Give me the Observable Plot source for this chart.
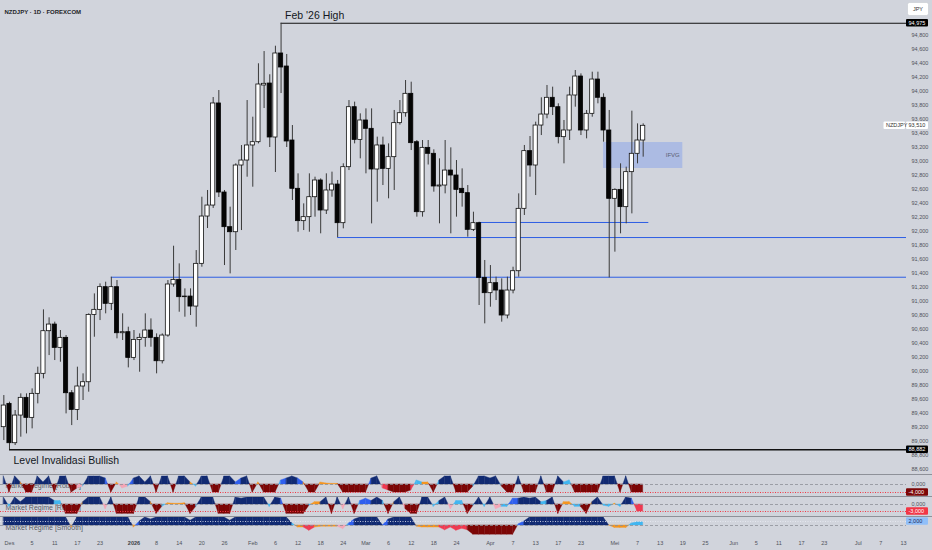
<!DOCTYPE html>
<html>
<head>
<meta charset="utf-8">
<script src="https://cdn.jsdelivr.net/npm/d3@7"></script>
<script src="https://cdn.jsdelivr.net/npm/@observablehq/plot@0.6"></script>
<style>
  body { margin: 0; background: #d1d4dc; width: 932px; height: 550px; overflow: hidden; font-family: "Liberation Sans", Arial, sans-serif; }
  svg { display: block; }
</style>
</head>
<body>
<div id="chart"></div>
<script>
// daily bars, index 0 = 1 Des 2025 (trading days only)
const firstBar = -1;
const O = [89.205,89.538,88.976,89.371,89.624,89.338,89.681,89.967,90.576,90.671,
  90.338,90.481,89.690,89.452,89.786,89.847,90.809,90.881,91.205,90.967,
  91.205,90.547,90.562,90.195,90.452,90.481,90.586,90.481,90.147,90.514,
  91.243,91.309,91.062,91.071,90.928,91.538,92.214,92.371,93.829,92.557,
  92.062,91.990,92.943,93.014,93.229,93.276,94.086,94.114,93.343,94.543,
  94.357,93.300,92.610,92.148,92.205,92.490,92.729,92.300,92.586,92.671,
  92.119,92.919,93.776,93.309,93.586,93.467,92.886,93.229,92.895,93.062,
  93.548,93.690,93.967,93.276,92.276,93.195,93.110,92.643,92.657,92.871,
  92.800,92.610,92.548,92.024,92.119,91.338,91.119,91.262,91.157,90.800,
  91.157,91.433,92.324,93.148,92.943,93.514,93.671,93.910,93.776,93.348,
  93.443,93.943,94.214,93.443,93.681,94.171,93.910,93.443,92.467,92.595,
  92.348,92.848,93.110,93.300];
const H = [89.657,89.562,89.443,89.681,89.681,89.752,90.062,90.881,90.767,90.705,
  90.586,90.514,89.728,90.062,89.967,90.824,91.109,91.252,91.276,91.347,
  91.300,90.824,90.633,90.586,90.538,90.824,90.752,90.538,90.538,91.300,
  91.790,91.538,91.181,91.181,91.728,92.490,92.586,93.914,94.014,92.586,
  92.348,92.967,93.228,93.871,93.633,94.396,94.571,94.239,94.647,94.975,
  94.529,93.514,92.824,92.395,92.824,92.776,92.752,92.824,92.848,92.729,
  92.967,93.871,93.848,93.681,93.752,93.752,93.348,93.348,93.252,93.729,
  93.871,94.157,94.133,93.300,93.300,93.300,93.167,93.038,93.300,93.195,
  93.014,92.895,92.657,92.276,92.133,91.586,91.514,91.348,91.324,91.348,
  91.490,92.538,93.229,93.357,93.562,93.910,94.086,94.062,93.824,93.586,
  94.062,94.300,94.252,93.729,94.276,94.276,93.967,93.729,92.610,92.967,
  92.919,93.719,93.538,93.538];
const L = [89.014,88.882,88.943,89.062,89.109,89.181,89.538,89.895,90.228,90.157,
  90.133,89.395,89.228,89.300,89.586,89.705,90.490,90.728,90.824,90.871,
  90.467,90.443,90.052,90.157,89.990,90.347,90.347,89.967,90.109,90.490,
  91.205,90.847,90.776,90.800,90.633,91.490,92.043,92.330,92.486,91.514,
  91.395,91.729,92.014,92.776,92.633,93.252,93.757,93.200,92.843,93.971,
  93.200,92.443,91.990,92.014,91.990,92.205,91.967,92.243,92.490,91.914,
  92.038,92.871,93.252,93.038,92.824,92.109,92.419,92.657,92.467,92.586,
  93.520,93.633,93.157,92.205,92.205,92.950,92.562,92.110,92.538,91.967,
  92.205,92.348,91.919,92.000,90.943,90.681,90.919,91.014,90.705,90.752,
  91.110,91.348,92.229,92.776,92.514,93.371,93.610,93.657,93.252,92.967,
  93.300,93.776,93.371,93.324,93.633,93.824,93.276,91.338,91.705,91.967,
  92.110,92.252,92.967,93.062];
const C = [89.514,88.976,89.371,89.624,89.338,89.681,89.967,90.576,90.671,90.338,
  90.481,89.690,89.452,89.786,89.847,90.809,90.881,91.205,90.967,91.205,
  90.547,90.562,90.195,90.452,90.481,90.586,90.481,90.147,90.514,91.243,
  91.309,91.062,91.071,90.928,91.538,92.214,92.371,93.829,92.557,92.062,
  91.990,92.943,93.014,93.229,93.276,94.100,94.110,93.343,94.543,94.343,
  93.286,92.610,92.148,92.205,92.490,92.729,92.300,92.586,92.671,92.119,
  92.919,93.776,93.309,93.586,93.467,92.886,93.229,92.895,93.062,93.548,
  93.690,93.967,93.262,92.276,93.195,93.110,92.643,92.657,92.871,92.800,
  92.595,92.548,92.024,92.119,91.338,91.119,91.262,91.157,90.800,91.157,
  91.433,92.324,93.148,92.943,93.514,93.671,93.910,93.776,93.348,93.443,
  93.943,94.214,93.443,93.681,94.171,93.910,93.443,92.467,92.595,92.348,
  92.848,93.110,93.300,93.510];

// horizontal levels (blue), start bar, end bar (null = runs to the edge)
const levelPrice = [91.347, 91.914, 92.129];
const levelFrom = [18, 58, 83];
const levelTo = [null, null, 113];
const febHighBar = 48, febHighPrice = 94.975;
const invalBar = 0, invalPrice = 88.882;
const fvg = {from: 105, to: 119, lo: 92.900, hi: 93.271};

const priceTicks = [88.6,88.8,89.0,89.2,89.4,89.6,89.8,90.0,90.2,90.4,90.6,90.8,91.0,91.2,
  91.4,91.6,91.8,92.0,92.2,92.4,92.6,92.8,93.0,93.2,93.4,93.6,93.8,94.0,94.2,94.4,94.6,94.8];
const tickIdx = [0,4,8,12,16,22,26,30,34,38,43,47,51,55,59,63,67,71,75,79,85,89,93,97,101,
  107,111,115,119,123,128,132,136,140,144,150,154,158];
const tickLbl = ["Des","5","11","17","23","2026","8","14","20","26","Feb","6","12","18","24",
  "Mar","6","12","18","24","Apr","7","13","17","23","Mei","7","13","19","25","Jun","5","11",
  "17","23","Jul","7","13"];

// indicator panels, one value per bar from firstBar
const regime1 = [4,-4,4,1,-4,-4,4,1,4,-4,
  4,4,-4,-2,-1,4,4,4,3,-4,
  1,-2,-1,3,4,1,4,-4,4,4,
  -4,4,4,1,-1,4,4,-4,-4,4,
  4,1,3,4,-4,1,-4,-4,-4,2,
  3,4,3,1,-4,-4,1,0.5,0.3,0.3,
  -4,-4,-4,-4,-4,3,4,-2,-3,-4,
  -4,-4,-3,2,1,1,-4,2,4,4,
  -4,-4,-4,-1,4,4,3,4,-1,-4,
  -4,4,-4,-4,-4,4,-4,-4,4,1,
  2,-4,-4,-4,-4,-4,4,4,4,-4,
  4,-4,-4,-4];
const regime2 = [3,-1,3,1,3,3,3,3,3,1.5,
  1.5,-4,-4,-4,1,3,3,3,-2,3,
  -4,-4,-4,-4,3,3,1,-4,-1,0.5,
  0.3,0.3,0.5,-4,-1,3,3,3,-4,-4,
  -4,3,2.5,3,3,3,3,-1,3,2.5,
  -4,-4,-4,-4,-0.5,1,1,3,-4,3,
  -2,3,-4,1.5,2.5,1.5,3,1.5,-4,1,
  3,-2,-4,-4,3,3,-1,1.5,3,-2,
  1.5,1.5,-4,-0.5,3,-1,3,-2,-1,-1,
  2.5,2.5,3,2.5,3,1,1.5,3,-4,1,
  1,-1,-1,-4,1,3,-0.5,-1,0.3,-1,
  3,2.5,-3,-3];
const regime3 = [2,2,2,2,2,2,2,2,2,2,
  2,2,-0.5,2,2,2,2,2,2,2,
  2,2,2,-0.5,1,2,1.5,2,2,2,
  2,2,2,1.2,2,2,2,2,2,2,
  1.2,2,2,2,2,2,2,2,2,2,
  2,0.5,-0.5,-0.5,-1.3,-0.5,-0.3,-0.3,-0.3,-0.3,
  -0.9,0.5,1.5,2,2,2,2,0,1.5,2,
  2,2,2,-0.3,-0.5,-0.5,-0.5,-0.5,-1.2,-0.5,
  -1.3,-0.8,-1.2,-2.3,-2.3,-2.3,-2.3,-2.3,-2.3,-2.3,
  -2.3,0.3,1,2,2,2,2,2,2,2,
  2,2,2,2,2,2,2,0,-0.6,-0.6,
  -0.6,0.5,0.8,0.8];

const W = 932, MR = 26;
const xDomain = [-1.59, 158.54];
const yDomain = [88.529, 95.3];
const FONT = "Liberation Sans, Arial, sans-serif";
const fmt = v => v.toFixed(3).replace(".", ",");

const NAVY = "#112a72", BLUE = "#2f5fee", LBLUE = "#41b6f1", ORANGE = "#f6961e",
      PINK = "#f4a5b5", RED = "#ee3a52", DRED = "#7c0606";

const bars = O.map((o, k) => ({i: firstBar + k, o, h: H[k], l: L[k], c: C[k]}));
const up = bars.filter(d => d.c >= d.o);
const down = bars.filter(d => d.c < d.o);
const levels = levelPrice.map((p, k) => ({p, a: levelFrom[k], b: levelTo[k] ?? xDomain[1]}));

function tag(svg, y, label, bg, fg, x = 906, w = 22) {
  const g = d3.select(svg).append("g").attr("text-anchor", "start");
  g.append("rect").attr("x", x).attr("y", y - 3.8).attr("width", w).attr("height", 7.6)
    .attr("rx", 1).attr("fill", bg);
  g.append("text").attr("x", x + 2.5).attr("y", y).attr("dy", "0.35em").attr("text-anchor", "start")
    .attr("font-size", 5.5).attr("font-family", FONT).attr("fill", fg).text(label);
}

const main = Plot.plot({
  width: W, height: 474,
  marginLeft: 0, marginRight: MR, marginTop: 0, marginBottom: 0,
  x: {domain: xDomain, axis: null, label: null},
  y: {domain: yDomain, axis: null, label: null},
  style: {background: "transparent", color: "#4f525a", fontFamily: FONT, fontSize: "5.5px"},
  marks: [
    Plot.axisY({anchor: "right", ticks: priceTicks, tickFormat: fmt, tickSize: 0, tickPadding: 5, label: null}),
    Plot.rect([fvg], {x1: "from", x2: "to", y1: "lo", y2: "hi", fill: "#2962ff", fillOpacity: 0.22}),
    Plot.text([fvg], {x: "to", y: d => (d.lo + d.hi) / 2, text: () => "IFVG", dx: -3,
      textAnchor: "end", fontSize: 6, fill: "#5b6072"}),
    Plot.ruleY(levels, {y: "p", x1: "a", x2: "b", stroke: "#2d5de4", strokeWidth: 1}),
    Plot.ruleY([{p: febHighPrice, a: febHighBar}], {y: "p", x1: "a", x2: xDomain[1], stroke: "#111", strokeWidth: 1.2}),
    Plot.ruleY([{p: invalPrice, a: invalBar}], {y: "p", x1: "a", x2: xDomain[1], stroke: "#111", strokeWidth: 1.5}),
    Plot.ruleX(bars, {x: "i", y1: "l", y2: "h", stroke: "#3a3a3a", strokeWidth: 1}),
    Plot.rect(up, {x1: d => d.i - 0.37, x2: d => d.i + 0.37, y1: "o", y2: "c",
      fill: "#ffffff", stroke: "#111", strokeWidth: 0.8}),
    Plot.rect(down, {x1: d => d.i - 0.37, x2: d => d.i + 0.37, y1: "o", y2: "c",
      fill: "#050505", stroke: "#050505", strokeWidth: 0.8}),
    Plot.text([{i: febHighBar, p: febHighPrice}], {x: "i", y: "p", text: () => "Feb '26 High",
      dx: 4, dy: -7.5, textAnchor: "start", fontSize: 10.5, fill: "#131722"}),
    Plot.text([{i: invalBar, p: invalPrice}], {x: "i", y: "p", text: () => "Level Invalidasi Bullish",
      dx: 4, dy: 10.5, textAnchor: "start", fontSize: 10.5, fill: "#131722"}),
    Plot.text(["NZDJPY · 1D · FOREXCOM"], {frameAnchor: "top-left", text: d => d, dx: 4, dy: 9,
      textAnchor: "start", fontSize: 6, fontWeight: "bold", fill: "#1e1f26"})
  ]
});

const yMain = d3.scaleLinear(yDomain, [474, 0]);
tag(main, yMain(febHighPrice), fmt(febHighPrice), "#000", "#fff");
tag(main, yMain(invalPrice), fmt(invalPrice), "#000", "#fff");
tag(main, yMain(C[C.length - 1]), fmt(C[C.length - 1]), "#fff", "#333");
tag(main, yMain(C[C.length - 1]), "NZDJPY", "#fff", "#333", 883.5, 21.5);
{
  const g = d3.select(main).append("g");
  g.append("rect").attr("x", 907.5).attr("y", 2.5).attr("width", 21).attr("height", 13)
    .attr("rx", 2).attr("fill", "#fff").attr("stroke", "#c4c7cf").attr("stroke-width", 0.6);
  g.append("text").attr("x", 918).attr("y", 9).attr("dy", "0.35em").attr("text-anchor", "middle")
    .attr("font-size", 5.5).attr("font-family", FONT).attr("fill", "#333").text("JPY");
}

// split each bar-to-bar step at the zero crossing so each side keeps its own colour
function segments(vals) {
  const out = [];
  for (let k = 0; k < vals.length - 1; k++) {
    const x0 = firstBar + k, v0 = vals[k], v1 = vals[k + 1];
    if (v0 * v1 < 0) {
      const xm = x0 + v0 / (v0 - v1);
      out.push({s: 2 * k, x: x0, y: v0, c: v0}, {s: 2 * k, x: xm, y: 0, c: v0});
      out.push({s: 2 * k + 1, x: xm, y: 0, c: v1}, {s: 2 * k + 1, x: x0 + 1, y: v1, c: v1});
    } else {
      const c = Math.abs(v0) > Math.abs(v1) ? v0 : v1;
      out.push({s: 2 * k, x: x0, y: v0, c}, {s: 2 * k, x: x0 + 1, y: v1, c});
    }
  }
  return out;
}

function panel(vals, o) {
  const svg = Plot.plot({
    width: W, height: o.height,
    marginLeft: 0, marginRight: MR, marginTop: 0, marginBottom: 0,
    x: {domain: xDomain, axis: null, label: null},
    y: {domain: o.yDomain, axis: null, label: null},
    color: {type: "threshold", domain: o.cuts, range: o.colors},
    style: {background: "transparent", color: "#4f525a", fontFamily: FONT, fontSize: "5.5px"},
    marks: [
      Plot.text([o.title], {frameAnchor: "top-left", text: d => d, dx: 5, dy: o.titleDy,
        textAnchor: "start", fontSize: 7, fill: "#5a5d66"}),
      Plot.areaY(segments(vals), {x: "x", y1: 0, y2: "y", z: "s", fill: "c", stroke: "c",
        strokeWidth: 0.4, curve: "linear"}),
      ...o.lines.map(l => Plot.ruleY([l.v], {stroke: l.stroke, strokeDasharray: l.dash, strokeWidth: l.w || 0.8})),
      o.zeroLabel ? Plot.axisY({anchor: "right", ticks: [0], tickFormat: fmt, tickSize: 0, tickPadding: 5, label: null}) : null
    ]
  });
  d3.select(svg).append("line").attr("x1", 0).attr("x2", W).attr("y1", 0.5).attr("y2", 0.5)
    .attr("stroke", "#8e9199").attr("stroke-width", 1);
  const ys = d3.scaleLinear(o.yDomain, [o.height, 0]);
  tag(svg, ys(o.tag.v), o.tag.label, o.tag.bg, o.tag.fg);
  return svg;
}

const p1 = panel(regime1, {
  height: 22, yDomain: [-6, 5], title: "Market Regime [Robust]", titleDy: 9,
  cuts: [-3.5, -2.5, -1.5, 0, 1.5, 2.5, 3.5],
  colors: [DRED, RED, PINK, LBLUE, ORANGE, LBLUE, BLUE, NAVY],
  lines: [{v: 0, stroke: "#8d9098", dash: "3,2"}, {v: -4, stroke: "#f23645", dash: "1,1.5", w: 1}],
  zeroLabel: true,
  tag: {v: -4, label: fmt(regime1[regime1.length - 1]), bg: "#7c0606", fg: "#fff"}
});
const p2 = panel(regime2, {
  height: 20, yDomain: [-5.14, 3.43], title: "Market Regime [Robust]", titleDy: 8.7,
  cuts: [-3.5, -2.5, -1.5, 0, 1.25, 2, 2.75],
  colors: [DRED, RED, PINK, LBLUE, ORANGE, LBLUE, BLUE, NAVY],
  lines: [{v: 0, stroke: "#8d9098", dash: "3,2"}, {v: -3, stroke: "#f23645", dash: "1,1.5", w: 1}],
  zeroLabel: true,
  tag: {v: -3, label: fmt(regime2[regime2.length - 1]), bg: "#f23645", fg: "#fff"}
});
const p3 = panel(regime3, {
  height: 20, yDomain: [-2.75, 2.25], title: "Market Regime [Smooth]", titleDy: 8.7,
  cuts: [-1.5, -1, -0.75, 0.25, 1, 1.5, 1.75],
  colors: [DRED, RED, PINK, ORANGE, LBLUE, BLUE, BLUE, NAVY],
  lines: [{v: 0, stroke: "#8d9098", dash: "3,2"}, {v: 1, stroke: "#e8ebf2", dash: "1,1.5"}],
  zeroLabel: false,
  tag: {v: 1, label: "2,000", bg: "#90bff9", fg: "#1e2a55"}
});

const ticks = tickIdx.map((i, k) => ({i, t: tickLbl[k]}));
const axis = Plot.plot({
  width: W, height: 14,
  marginLeft: 0, marginRight: MR, marginTop: 0, marginBottom: 0,
  x: {domain: xDomain, axis: null, label: null},
  style: {background: "transparent", color: "#4f525a", fontFamily: FONT},
  marks: [
    Plot.text(ticks.filter(d => d.t !== "2026"), {x: "i", text: "t", frameAnchor: "middle", fontSize: 5.5, fill: "#4f525a"}),
    Plot.text(ticks.filter(d => d.t === "2026"), {x: "i", text: "t", frameAnchor: "middle", fontSize: 5.5, fontWeight: "bold", fill: "#3a3d45"})
  ]
});

document.getElementById("chart").append(main, p1, p2, p3, axis);
</script>
</body>
</html>
